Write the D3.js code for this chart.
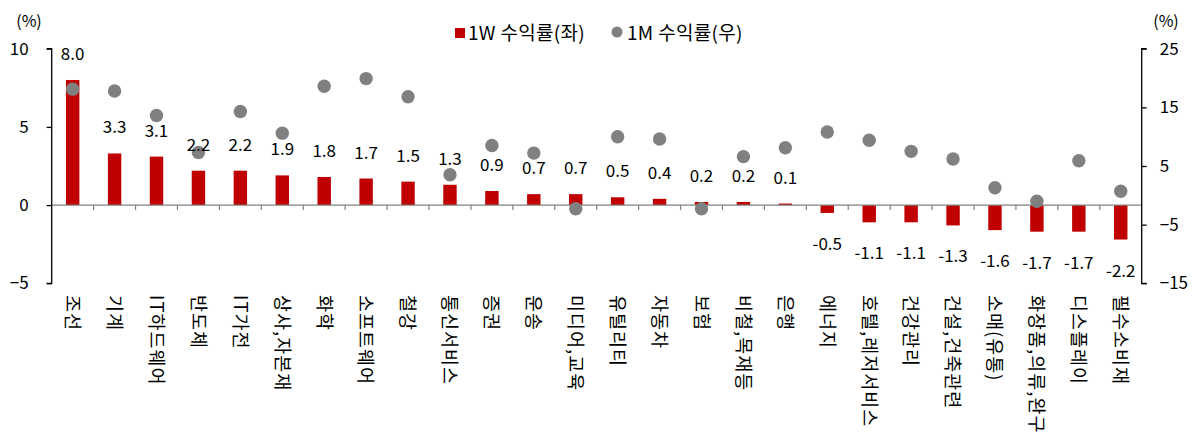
<!DOCTYPE html>
<html>
<head>
<meta charset="utf-8">
<script src="https://cdn.jsdelivr.net/npm/d3@7"></script>
<style>
  body { margin: 0; background: #fff; }
  svg text { font-family: "Noto Sans CJK KR", "Noto Sans", sans-serif; fill: #000; }
</style>
</head>
<body>
<svg id="chart" width="1194" height="432"></svg>
<script>
// 업종별 수익률
var categories = ['조선', '기계', 'IT하드웨어', '반도체', 'IT가전', '상사,자본재', '화학', '소프트웨어', '철강', '통신서비스',
    '증권', '운송', '미디어,교육', '유틸리티', '자동차', '보험', '비철,목재등', '은행', '에너지', '호텔,레저서비스',
    '건강관리', '건설,건축관련', '소매(유통)', '화장품,의류,완구', '디스플레이', '필수소비재'];
var week_ret = [8.0, 3.3, 3.1, 2.2, 2.2, 1.9, 1.8, 1.7, 1.5, 1.3, 0.9, 0.7, 0.7, 0.5, 0.4, 0.2, 0.2, 0.1,
    -0.5, -1.1, -1.1, -1.3, -1.6, -1.7, -1.7, -2.2];
var month_ret = [18.1, 17.8, 13.6, 7.3, 14.3, 10.6, 18.6, 19.9, 16.8, 3.5, 8.5, 7.2, -2.3, 10.0, 9.6, -2.3,
    6.6, 8.1, 10.8, 9.4, 7.5, 6.2, 1.3, -1.0, 5.9, 0.7];
var left_ticks = [-5, 0, 5, 10];
var right_ticks = [-15, -5, 5, 15, 25];
var legend_labels = ['1W 수익률(좌)', '1M 수익률(우)'];

var barColor = '#c00000', dotColor = '#808080';
var svg = d3.select('#chart');
var fontSize = 17;

var x = d3.scaleBand().domain(categories).range([51.7, 1141.7])
    .paddingInner(0.68).paddingOuter(0.34);
var yL = d3.scaleLinear().domain([-5, 10]).range([283.3, 48.7]);
var yR = d3.scaleLinear().domain([-15, 25]).range([283.3, 48.7]);

//## bars
var data = categories.map(function (c, i) { return {cat: c, w: week_ret[i], m: month_ret[i]}; });
svg.append('g').selectAll('rect')
    .data(data).enter().append('rect')
    .attr('x', function (d) { return x(d.cat); })
    .attr('width', x.bandwidth())
    .attr('y', function (d) { return yL(Math.max(0, d.w)); })
    .attr('height', function (d) { return Math.abs(yL(d.w) - yL(0)); })
    .attr('fill', barColor);

//## zero line + category ticks
var gap = (x.step() - x.bandwidth()) / 2;
svg.append('line')
    .attr('x1', x.range()[0]).attr('x2', x.range()[1])
    .attr('y1', yL(0)).attr('y2', yL(0))
    .attr('stroke', '#808080').attr('stroke-width', 1.2);
svg.append('g').selectAll('line')
    .data(categories.slice(1)).enter().append('line')
    .attr('x1', function (d) { return x(d) - gap; })
    .attr('x2', function (d) { return x(d) - gap; })
    .attr('y1', yL(0)).attr('y2', yL(0) + 5)
    .attr('stroke', '#808080').attr('stroke-width', 1.2);

//## dots
svg.append('g').selectAll('circle')
    .data(data).enter().append('circle')
    .attr('cx', function (d) { return x(d.cat) + x.bandwidth() / 2; })
    .attr('cy', function (d) { return yR(d.m); })
    .attr('r', 6.7)
    .attr('fill', dotColor);

//## bar value labels
svg.append('g').selectAll('text')
    .data(data).enter().append('text')
    .attr('x', function (d) { return x(d.cat) + x.bandwidth() / 2; })
    .attr('y', function (d) { return d.w >= 0 ? yL(d.w) - 20 : yL(d.w) + 37; })
    .attr('text-anchor', 'middle')
    .style('font-size', fontSize + 'px')
    .text(function (d) { return d.w.toFixed(1); });

//## axes
var axL = svg.append('g').attr('transform', 'translate(51.7,0)')
    .call(d3.axisLeft(yL).tickValues(left_ticks).tickSize(5).tickPadding(18).tickFormat(d3.format('d')));
var axR = svg.append('g').attr('transform', 'translate(1141.7,0)')
    .call(d3.axisRight(yR).tickValues(right_ticks).tickSize(5).tickPadding(13).tickFormat(d3.format('d')));
[axL, axR].forEach(function (ax) {
    ax.select('.domain').attr('stroke', '#000').attr('stroke-width', 1.3);
    ax.selectAll('.tick line').attr('stroke', '#000').attr('stroke-width', 1.3);
    ax.selectAll('.tick text').style('font-size', fontSize + 'px')
        .style('font-family', '"Noto Sans CJK KR", "Noto Sans", sans-serif').attr('fill', '#000');
});
axL.select('.domain').attr('d', 'M-5,' + yL(10) + 'H0V' + yL(-5) + 'H-5');
axR.select('.domain').attr('d', 'M5,' + yR(25) + 'H0V' + yR(-15) + 'H5');

//## unit labels
svg.append('text').attr('x', 29).attr('y', 27).attr('text-anchor', 'middle')
    .style('font-size', '16px').text('(%)');
svg.append('text').attr('x', 1166).attr('y', 27).attr('text-anchor', 'middle')
    .style('font-size', '16px').text('(%)');

//## category labels
svg.append('g').selectAll('text')
    .data(categories).enter().append('text')
    .attr('transform', function (d) { return 'translate(' + (x(d) + x.bandwidth() / 2) + ',295) rotate(90)'; })
    .attr('dy', '0.36em')
    .style('font-size', '18.5px')
    .style('letter-spacing', '1px')
    .text(function (d) { return d; });

//## legend
var lg = svg.append('g');
lg.append('rect').attr('x', 455).attr('y', 28).attr('width', 10).attr('height', 10).attr('fill', barColor);
lg.append('text').attr('x', 468).attr('y', 33).attr('dy', '0.35em')
    .style('font-size', '19px').style('letter-spacing', '0.3px').text(legend_labels[0]);
lg.append('circle').attr('cx', 617).attr('cy', 32).attr('r', 5.5).attr('fill', dotColor);
lg.append('text').attr('x', 627).attr('y', 33).attr('dy', '0.35em')
    .style('font-size', '19px').style('letter-spacing', '0.3px').text(legend_labels[1]);
</script>
</body>
</html>
